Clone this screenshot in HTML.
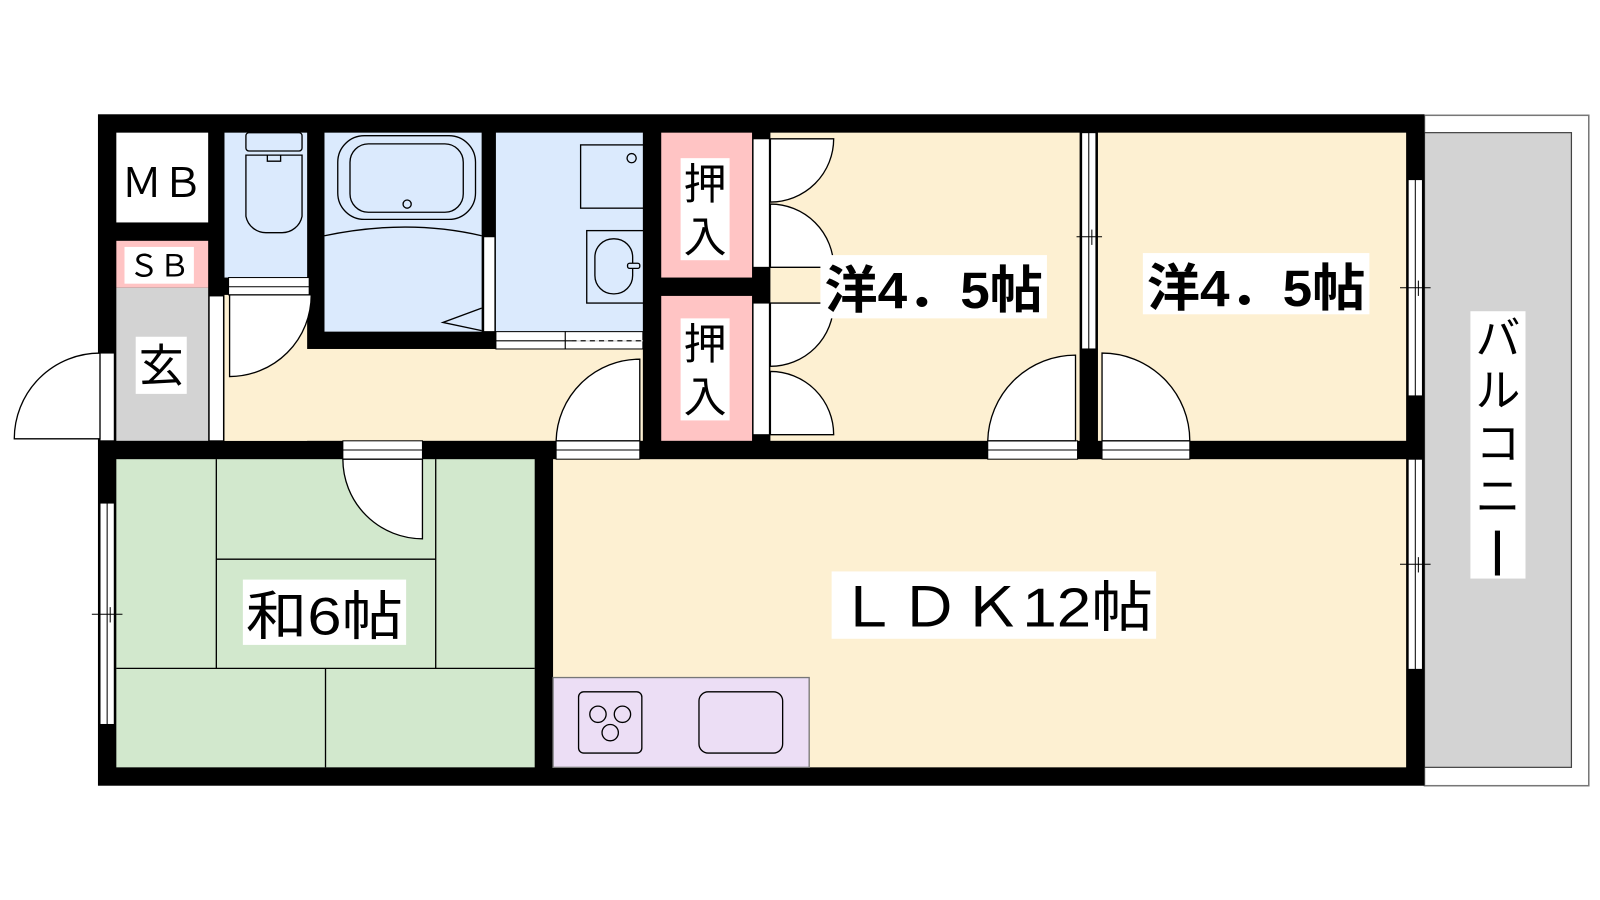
<!DOCTYPE html>
<html><head><meta charset="utf-8"><style>
html,body{margin:0;padding:0;background:#fff;}
svg{display:block;}
text{font-family:"Liberation Sans","Noto Sans CJK JP",sans-serif;fill:#000;}
</style></head><body>
<svg width="1600" height="900" viewBox="0 0 1568 882" xmlns="http://www.w3.org/2000/svg">
<rect width="1568" height="882" fill="#fff"/>
<rect x="1396" y="113" width="161" height="657" fill="#fff" stroke="#777" stroke-width="1.5"/>
<rect x="1396" y="130" width="144" height="622" fill="#d3d3d3" stroke="#444" stroke-width="1.2"/>
<rect x="96" y="112" width="1300" height="658" fill="#000"/>
<rect x="114" y="130" width="90" height="88" fill="#fff"/>
<rect x="114" y="236" width="90" height="46" fill="#ffc4c4"/>
<rect x="114" y="282" width="90" height="150" fill="#d3d3d3"/>
<rect x="220" y="130" width="81" height="142" fill="#dbeafd"/>
<rect x="318" y="130" width="154" height="195" fill="#dbeafd"/>
<rect x="486" y="130" width="144" height="195" fill="#dbeafd"/>
<rect x="220" y="289" width="81" height="143" fill="#fdf0d2"/>
<rect x="220" y="342" width="410" height="90" fill="#fdf0d2"/>
<rect x="648" y="130" width="89" height="142" fill="#ffc4c4"/>
<rect x="648" y="290" width="89" height="142" fill="#ffc4c4"/>
<rect x="755" y="130" width="303" height="302" fill="#fdf0d2"/>
<rect x="1076" y="130" width="302" height="302" fill="#fdf0d2"/>
<rect x="114" y="450" width="410" height="302" fill="#d2e8cd"/>
<rect x="542" y="450" width="836" height="302" fill="#fdf0d2"/>
<g fill="#fff" stroke="#000" stroke-width="1">
<rect x="205" y="290" width="14" height="142"/>
<rect x="224" y="272" width="79" height="17"/>
<rect x="474" y="232" width="11" height="93"/>
<rect x="486" y="325" width="68" height="17"/>
<rect x="554" y="325" width="76" height="17"/>
<rect x="738" y="136" width="16" height="126"/>
<rect x="738" y="297" width="16" height="129"/>
<rect x="1060" y="130" width="14" height="212"/>
<rect x="1380" y="176" width="14" height="212"/>
<rect x="1380" y="450" width="14" height="206"/>
<rect x="98" y="346" width="14" height="86"/>
<rect x="98" y="493" width="14" height="217"/>
<rect x="336" y="432" width="78" height="18"/>
<rect x="545" y="432" width="82" height="18"/>
<rect x="968" y="432" width="88" height="18"/>
<rect x="1080" y="432" width="86" height="18"/>
</g>
<g stroke="#000" stroke-width="1" fill="none">
<line x1="1067" y1="130" x2="1067" y2="342"/><line x1="1055" y1="232" x2="1080" y2="232"/><line x1="1070" y1="225" x2="1070" y2="240"/>
<line x1="1387" y1="176" x2="1387" y2="388"/><line x1="1372" y1="282" x2="1402" y2="282"/><line x1="1390" y1="275" x2="1390" y2="290"/>
<line x1="1387" y1="450" x2="1387" y2="656"/><line x1="1372" y1="553" x2="1402" y2="553"/><line x1="1390" y1="546" x2="1390" y2="561"/>
<line x1="105" y1="493" x2="105" y2="710"/><line x1="90" y1="602" x2="120" y2="602"/><line x1="108" y1="595" x2="108" y2="610"/>
<line x1="336" y1="441" x2="414" y2="441"/><line x1="545" y1="441" x2="627" y2="441"/><line x1="968" y1="441" x2="1056" y2="441"/><line x1="1080" y1="441" x2="1166" y2="441"/>
<line x1="486" y1="334" x2="630" y2="334"/><line x1="560" y1="334" x2="630" y2="334" stroke="#fff"/><line x1="560" y1="334" x2="630" y2="334" stroke-dasharray="5,4"/>
<line x1="224" y1="281" x2="303" y2="281"/>
</g>
<g fill="#fff" stroke="#000" stroke-width="1.3">
<path d="M98,430 L14,430 A84,84 0 0 1 98,346 Z"/>
<path d="M225,289 L225,369 A80,80 0 0 0 305,289 Z"/>
<path d="M627,432 L627,352 A82,82 0 0 0 545,432 Z"/>
<path d="M1054,432 L1054,348 A86,86 0 0 0 968,432 Z"/>
<path d="M1080,432 L1080,346 A86,86 0 0 1 1166,432 Z"/>
<path d="M414,450 L414,528 A78,78 0 0 1 336,450 Z"/>
<path d="M755,136 L817,136 A62,62 0 0 1 755,198 Z"/>
<path d="M755,200 A62,62 0 0 1 817,262 L755,262 Z"/>
<path d="M755,297 L817,297 A62,62 0 0 1 755,359 Z"/>
<path d="M755,364 A62,62 0 0 1 817,426 L755,426 Z"/>
</g>
<g stroke="#000" stroke-width="1.3" fill="none">
<line x1="212" y1="450" x2="212" y2="655"/><line x1="427" y1="450" x2="427" y2="655"/>
<line x1="212" y1="548" x2="427" y2="548"/><line x1="114" y1="655" x2="524" y2="655"/>
<line x1="319" y1="655" x2="319" y2="752"/>
</g>
<g stroke="#000" stroke-width="1.3" fill="none">
<rect x="241" y="130" width="55" height="18" rx="3"/>
<path d="M241,152 h55 v60 a20,20 0 0 1 -20,16 h-15 a20,20 0 0 1 -20,-16 Z"/>
<path d="M262,152 v6 h13 v-6"/>
<rect x="331" y="133" width="135" height="82" rx="26"/>
<rect x="343" y="141" width="111" height="67" rx="18"/>
<circle cx="399" cy="200" r="4"/>
<path d="M318,231 Q399,214 472,231"/>
<path d="M472,302 L434,316 L472,324"/>
<rect x="569" y="142" width="63" height="62"/>
<circle cx="619" cy="155" r="4.5"/>
<rect x="575" y="226" width="57" height="71"/>
<rect x="583" y="234" width="37" height="54" rx="18"/>
<rect x="615" y="258" width="12" height="5" rx="2" fill="#dbeafd"/>
<rect x="542" y="664" width="251" height="88" fill="#ecdef5" stroke="#777"/>
<rect x="567" y="678" width="62" height="60" rx="5"/>
<circle cx="586" cy="700" r="8"/><circle cx="610" cy="700" r="8"/><circle cx="598" cy="718" r="8"/>
<rect x="685" y="678" width="82" height="60" rx="9"/>
</g>
<text x="159" y="193" font-size="40" text-anchor="middle" textLength="80" lengthAdjust="spacingAndGlyphs">ＭＢ</text>
<rect x="122" y="242" width="68" height="36" fill="#fff"/>
<text x="156" y="271" font-size="30" text-anchor="middle" textLength="60" lengthAdjust="spacingAndGlyphs">ＳＢ</text>
<rect x="133" y="330" width="50" height="56" fill="#fff"/>
<text x="158" y="374" font-size="44" text-anchor="middle">玄</text>
<rect x="667" y="155" width="48" height="100" fill="#fff"/>
<text x="691" y="195" font-size="42" text-anchor="middle">押</text>
<text x="691" y="247" font-size="42" text-anchor="middle">入</text>
<rect x="667" y="312" width="48" height="100" fill="#fff"/>
<text x="691" y="352" font-size="42" text-anchor="middle">押</text>
<text x="691" y="404" font-size="42" text-anchor="middle">入</text>
<rect x="804" y="250" width="222" height="62" fill="#fff"/>
<text x="808" y="302" font-size="50" font-weight="bold" textLength="214" lengthAdjust="spacingAndGlyphs">洋4．5帖</text>
<rect x="1120" y="248" width="222" height="60" fill="#fff"/>
<text x="1124" y="300" font-size="50" font-weight="bold" textLength="214" lengthAdjust="spacingAndGlyphs">洋4．5帖</text>
<rect x="238" y="568" width="160" height="64" fill="#fff"/>
<text x="241" y="622" font-size="52" textLength="154" lengthAdjust="spacingAndGlyphs">和6帖</text>
<rect x="815" y="560" width="318" height="66" fill="#fff"/>
<text x="820" y="614" font-size="54" textLength="310" lengthAdjust="spacingAndGlyphs">ＬＤＫ12帖</text>
<rect x="1441" y="305" width="54" height="262" fill="#fff"/>
<text x="1468" y="347" font-size="44" text-anchor="middle">バ</text>
<text x="1468" y="398" font-size="44" text-anchor="middle">ル</text>
<text x="1468" y="450" font-size="44" text-anchor="middle">コ</text>
<text x="1468" y="502" font-size="44" text-anchor="middle">ニ</text>
<rect x="1465" y="520" width="5" height="44" fill="#000"/>
</svg>
</body></html>
